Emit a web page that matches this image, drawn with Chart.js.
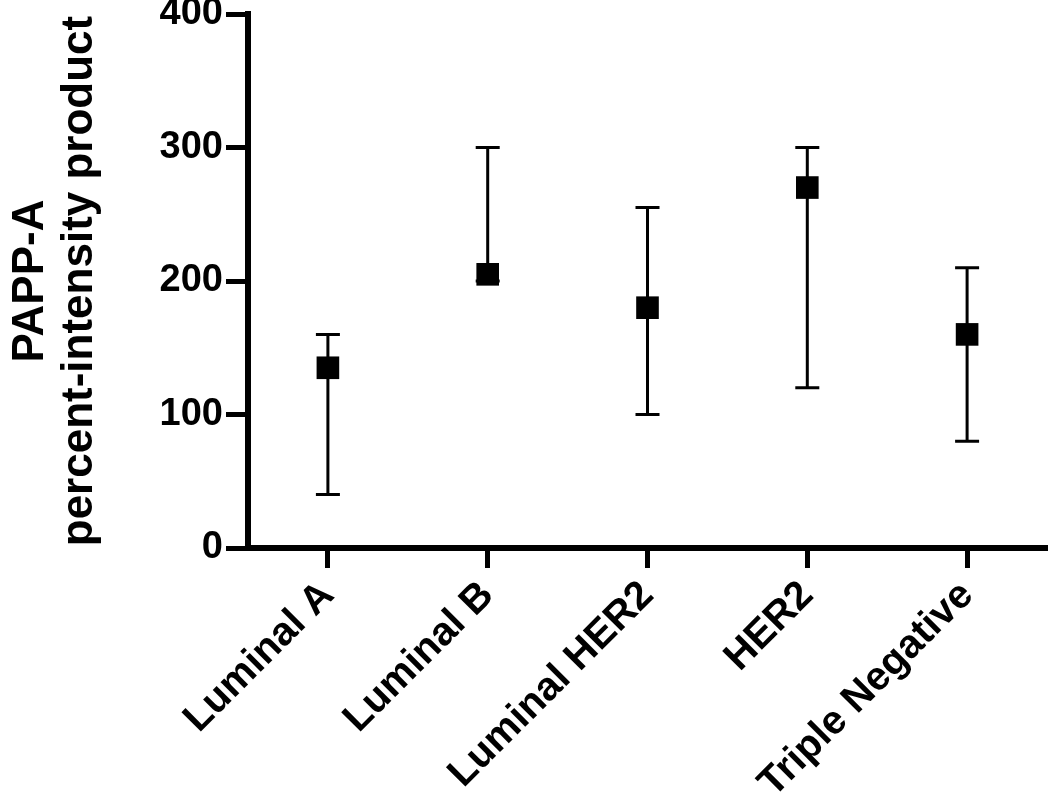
<!DOCTYPE html>
<html lang="en">
  <head>
    <meta charset="UTF-8">
    <script src="https://cdn.jsdelivr.net/npm/chart.js"></script>
    <title>PAPP-A</title>
    <style>
      html, body {margin: 0; padding: 0; background: #fff;}
      #wrap {width: 1050px; height: 798px;}
    </style>
  </head>
  <body>
    <div id="wrap">
      <canvas id="myChart" width="1050" height="798"></canvas>
    </div>
    <script>
      // data
      const categories = ['Luminal A', 'Luminal B', 'Luminal HER2', 'HER2', 'Triple Negative'];
      const means = [135, 205, 180, 270, 160];
      const lows = [40, 200, 100, 120, 80];
      const highs = [160, 300, 255, 300, 210];
      const yTicks = [0, 100, 200, 300, 400];

      // whiskers drawn under the squares
      const errorBars = {
        id: 'errorBars',
        beforeDatasetsDraw(chart) {
          const ctx = chart.ctx;
          const x = chart.scales.x, y = chart.scales.y;
          ctx.save();
          ctx.strokeStyle = '#000';
          ctx.lineWidth = 3;
          for (let i = 0; i < means.length; i++) {
            const px = x.getPixelForValue(i);
            const top = y.getPixelForValue(highs[i]);
            const bot = y.getPixelForValue(lows[i]);
            ctx.beginPath();
            ctx.moveTo(px, top); ctx.lineTo(px, bot);
            ctx.moveTo(px - 12, top); ctx.lineTo(px + 12, top);
            ctx.moveTo(px - 12, bot); ctx.lineTo(px + 12, bot);
            ctx.stroke();
          }
          ctx.restore();
        }
      };

      const ctx = document.getElementById('myChart');
      new Chart(ctx, {
        type: 'line',
        data: {
          labels: categories,
          datasets: [{
            data: means,
            showLine: false,
            pointStyle: 'rect',
            pointRadius: 16,
            pointBackgroundColor: '#000',
            pointBorderColor: '#000',
            pointBorderWidth: 0
          }]
        },
        options: {
          responsive: false,
          animation: false,
          layout: {autoPadding: false, padding: {top: 14, right: 3, left: 0, bottom: 0}},
          plugins: {legend: {display: false}, tooltip: {enabled: false}},
          scales: {
            x: {
              type: 'category',
              offset: true,
              grid: {display: true, drawOnChartArea: false, offset: false, tickLength: 20, tickWidth: 5, tickColor: '#000'},
              border: {display: true, width: 6, color: '#000'},
              ticks: {
                color: '#000', maxRotation: 45, minRotation: 45, padding: 4,
                font: {family: 'Liberation Sans, Arial', size: 40, weight: 'bold'}
              },
              afterFit(s) { s.height = 250; s.paddingLeft = 0; s.paddingRight = 0; }
            },
            y: {
              min: 0, max: 400,
              afterBuildTicks(s) { s.ticks = yTicks.map(v => ({value: v})); },
              grid: {display: true, drawOnChartArea: false, tickLength: 22, tickWidth: 5, tickColor: '#000'},
              border: {display: true, width: 6, color: '#000'},
              ticks: {
                color: '#000', padding: 3,
                font: {family: 'Liberation Sans, Arial', size: 38, weight: 'bold'}
              },
              title: {
                display: true,
                text: ['PAPP-A', 'percent-intensity product'],
                color: '#000',
                padding: {top: 7, bottom: 0},
                font: {family: 'Liberation Sans, Arial', size: 44, weight: 'bold', lineHeight: 1.1}
              },
              afterFit(s) { s.width = 248; s.paddingTop = 0; s.paddingBottom = 0; }
            }
          }
        },
        plugins: [errorBars]
      });
    </script>
  </body>
</html>
